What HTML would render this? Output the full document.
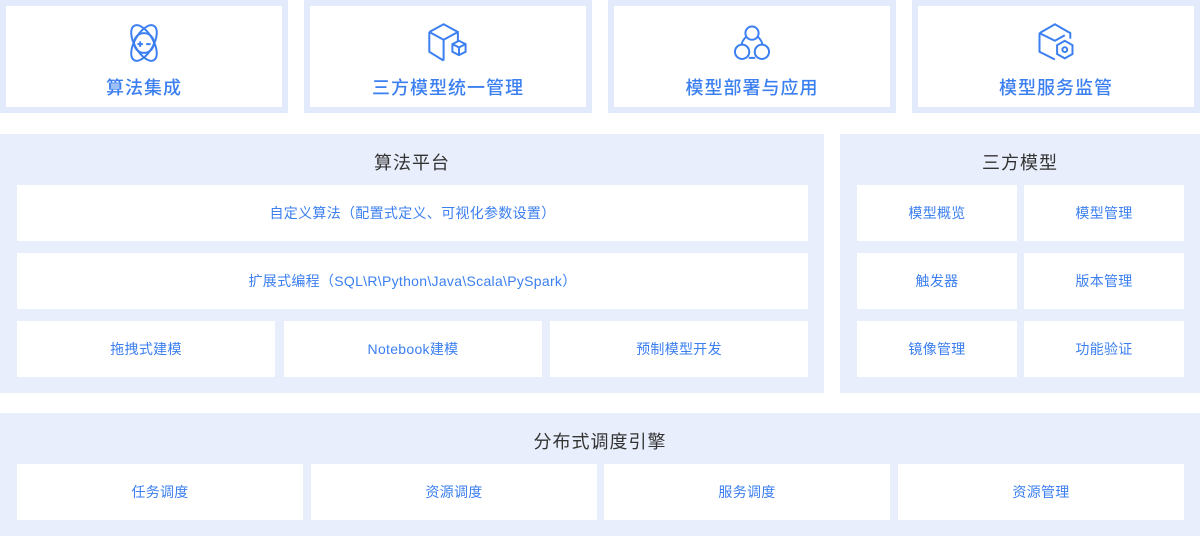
<!DOCTYPE html>
<html><head><meta charset="utf-8"><style>
*{margin:0;padding:0;box-sizing:border-box}
body{width:1200px;height:536px;background:#fff;position:relative;overflow:hidden;font-family:"Liberation Sans","Noto Sans CJK SC",sans-serif}
.a{position:absolute}
.top{background:#fff;border:6px solid #e2eafb;text-align:center}
.top .t{position:absolute;left:0;right:0;top:69px;font-size:18px;line-height:26px;color:#3b7ff0;letter-spacing:1px;font-weight:500}
.top svg{position:absolute;left:50%;top:15px;margin-left:-22px;width:44px;height:44px}
.p{background:#e8eefb}
.c{background:#fff;color:#3b7ff0;font-size:14px;display:flex;align-items:center;justify-content:center;letter-spacing:.3px}
.h{font-size:18px;color:#333;text-align:center;letter-spacing:1px}
</style></head><body>
<div class="a top" style="left:0;top:0;width:288px;height:113px">
<svg viewBox="0 0 40 40" fill="none" stroke="#3b7ff0" stroke-width="1.8"><ellipse cx="20" cy="20" rx="18" ry="8.5" transform="rotate(60 20 20)"/><ellipse cx="20" cy="20" rx="18" ry="8.5" transform="rotate(-60 20 20)"/><circle cx="20" cy="20" r="9"/><path d="M14 21h5M16.5 18.5v5M22 21h4"/></svg>
<div class="t">算法集成</div></div>
<div class="a top" style="left:304px;top:0;width:288px;height:113px">
<svg viewBox="0 0 40 40" fill="none" stroke="#3b7ff0" stroke-width="1.8"><path d="M3 10l13-7 13 7v9M3 10v18l13 8M3 10l13 7 13-7M16 17v19"/><path d="M24 21l6-3 6 3v7l-6 3-6-3z M24 21l6 3 6-3M30 24v7"/></svg>
<div class="t">三方模型统一管理</div></div>
<div class="a top" style="left:608px;top:0;width:288px;height:113px">
<svg viewBox="0 0 40 40" fill="none" stroke="#3b7ff0" stroke-width="1.8"><circle cx="20" cy="11" r="6"/><circle cx="11" cy="28" r="6.5"/><circle cx="29" cy="28" r="6.5"/><path d="M25 14q5 5 4 7.5M15 14q-5 5-4 7.5M17 33.5h6"/></svg>
<div class="t">模型部署与应用</div></div>
<div class="a top" style="left:912px;top:0;width:288px;height:113px">
<svg viewBox="0 0 40 40" fill="none" stroke="#3b7ff0" stroke-width="1.8"><path d="M5 11v17l14 7M5 11l14-8 14 8v5M5 11l14 7 9-5"/><path d="M28 18l7 4v8l-7 4-7-4v-8z"/><circle cx="28" cy="26" r="2.2"/></svg>
<div class="t">模型服务监管</div></div>

<div class="a p" style="left:0;top:134px;width:824px;height:259px"></div>
<div class="a h" style="left:0;top:149px;width:824px">算法平台</div>
<div class="a c" style="left:17px;top:185px;width:791px;height:56px">自定义算法（配置式定义、可视化参数设置）</div>
<div class="a c" style="left:17px;top:253px;width:791px;height:56px">扩展式编程（SQL\R\Python\Java\Scala\PySpark）</div>
<div class="a c" style="left:17px;top:321px;width:258px;height:56px">拖拽式建模</div>
<div class="a c" style="left:284px;top:321px;width:258px;height:56px">Notebook建模</div>
<div class="a c" style="left:550px;top:321px;width:258px;height:56px">预制模型开发</div>

<div class="a p" style="left:840px;top:134px;width:360px;height:259px"></div>
<div class="a h" style="left:840px;top:149px;width:360px">三方模型</div>
<div class="a c" style="left:857px;top:185px;width:160px;height:56px">模型概览</div>
<div class="a c" style="left:1024px;top:185px;width:160px;height:56px">模型管理</div>
<div class="a c" style="left:857px;top:253px;width:160px;height:56px">触发器</div>
<div class="a c" style="left:1024px;top:253px;width:160px;height:56px">版本管理</div>
<div class="a c" style="left:857px;top:321px;width:160px;height:56px">镜像管理</div>
<div class="a c" style="left:1024px;top:321px;width:160px;height:56px">功能验证</div>

<div class="a p" style="left:0;top:413px;width:1200px;height:123px"></div>
<div class="a h" style="left:0;top:428px;width:1200px">分布式调度引擎</div>
<div class="a c" style="left:17px;top:464px;width:286px;height:56px">任务调度</div>
<div class="a c" style="left:311px;top:464px;width:286px;height:56px">资源调度</div>
<div class="a c" style="left:604px;top:464px;width:286px;height:56px">服务调度</div>
<div class="a c" style="left:898px;top:464px;width:286px;height:56px">资源管理</div>
</body></html>
